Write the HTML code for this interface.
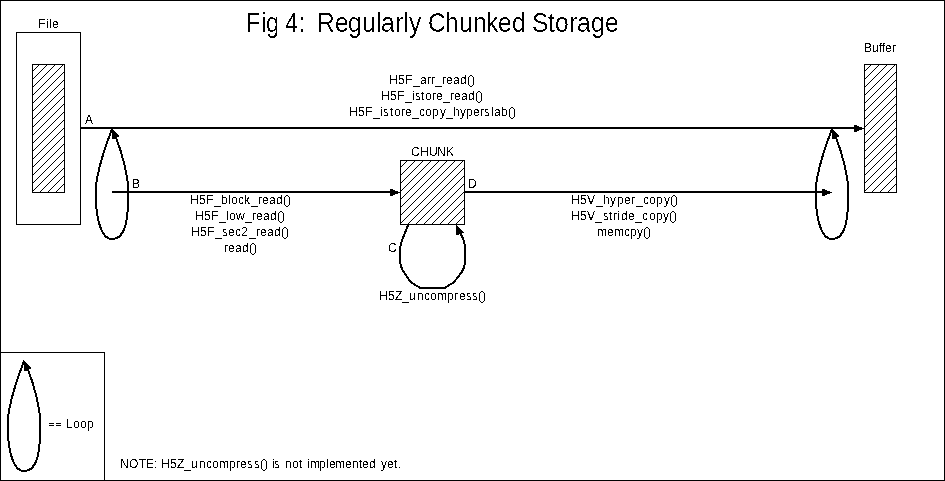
<!DOCTYPE html>
<html>
<head>
<meta charset="utf-8">
<title>Fig 4: Regularly Chunked Storage</title>
<style>
html,body{margin:0;padding:0;background:#fff;}
body{width:945px;height:481px;overflow:hidden;font-family:"Liberation Sans",sans-serif;}
svg{display:block;filter:grayscale(1);}
text{font-family:"Liberation Sans",sans-serif;font-size:12px;fill:#000;white-space:pre;}
</style>
</head>
<body>
<svg width="945" height="481" viewBox="0 0 945 481">
<defs>
<pattern id="h" patternUnits="userSpaceOnUse" x="0" y="0" width="8" height="8">
<g fill="#000" shape-rendering="crispEdges"><rect x="0" y="7" width="1" height="1"/><rect x="1" y="6" width="1" height="1"/><rect x="2" y="5" width="1" height="1"/><rect x="3" y="4" width="1" height="1"/><rect x="4" y="3" width="1" height="1"/><rect x="5" y="2" width="1" height="1"/><rect x="6" y="1" width="1" height="1"/><rect x="7" y="0" width="1" height="1"/></g>
</pattern>
<filter id="bw" x="0" y="0" width="945" height="481" filterUnits="userSpaceOnUse" color-interpolation-filters="sRGB"><feComponentTransfer><feFuncA type="discrete" tableValues="0 1"/></feComponentTransfer></filter>
<filter id="bw2" x="0" y="0" width="945" height="60" filterUnits="userSpaceOnUse" color-interpolation-filters="sRGB"><feComponentTransfer><feFuncA type="discrete" tableValues="0 0 0 1 1"/></feComponentTransfer></filter>
<path id="loop" shape-rendering="crispEdges" d="M0,0 C-4,11 -16.3,41 -16.3,64 C-16.3,84 -12.5,110 0,110 C13,110 16.3,93 16.3,63 C16.3,47.04 9.74,22.61 3.49,7.5" fill="none" stroke="#000" stroke-width="2"/>
<path id="la" shape-rendering="crispEdges" fill="#000" d="M0,0h1v1h1v1h1v1h1v1h1v1h1v1h1v2h-2v1h-2v1h-3z"/>
<path id="ah" shape-rendering="crispEdges" fill="#000" d="M-10,-3h3v1h2v1h3v1h2v1h-2v1h-3v1h-2v1h-3z"/>
</defs>
<rect x="0" y="0" width="945" height="481" fill="#fff"/>
<!-- outer frame and legend box -->
<g fill="none" stroke="#000" stroke-width="1" shape-rendering="crispEdges">
<rect x="0.5" y="0.5" width="944" height="480"/>
<rect x="0.5" y="352.5" width="104" height="128"/>
<!-- File -->
<rect x="16.5" y="32.5" width="64" height="192"/>
<rect x="32.5" y="64.5" width="32" height="128" fill="url(#h)"/>
<!-- Buffer -->
<rect x="864.5" y="64.5" width="32" height="128" fill="url(#h)"/>
<!-- CHUNK -->
<rect x="400.5" y="160.5" width="64" height="64" fill="url(#h)"/>
</g>
<!-- arrows -->
<g stroke="#000" stroke-width="2" shape-rendering="crispEdges">
<line x1="81" y1="128" x2="856" y2="128"/>
<line x1="112" y1="192" x2="392" y2="192"/>
<line x1="465" y1="192" x2="824" y2="192"/>
</g>
<use href="#ah" x="864" y="128"/>
<use href="#ah" x="400" y="192"/>
<use href="#ah" x="832" y="192"/>
<!-- loops -->
<use href="#loop" x="112" y="129"/><use href="#la" x="112" y="129"/>
<use href="#loop" x="832" y="129"/><use href="#la" x="832" y="129"/>
<use href="#loop" x="24" y="361"/>
<path shape-rendering="crispEdges" fill="#000" d="M23,360h1v1h1v1h1v1h1v1h1v1h1v1h1v1h1v2h-2v1h-2v1h-3v-6h-1z"/>
<!-- chunk loop -->
<g shape-rendering="crispEdges"><path d="M408.50,224.00 C407.92,225.50 406.17,230.00 405.00,233.00 C403.83,236.00 402.33,239.17 401.50,242.00 C400.67,244.83 400.25,246.67 400.00,250.00 C399.75,253.33 399.58,258.67 400.00,262.00 C400.42,265.33 401.67,268.08 402.50,270.00 C403.33,271.92 403.75,271.67 405.00,273.50 C406.25,275.33 408.33,279.12 410.00,281.00 C411.67,282.88 413.25,283.63 415.00,284.80 C416.75,285.97 419.58,287.47 420.50,288.00 L444.50,288.00 C444.92,287.73 445.52,287.33 447.00,286.40 C448.48,285.47 451.62,283.90 453.40,282.40 C455.18,280.90 456.35,279.07 457.70,277.40 C459.05,275.73 460.45,274.07 461.50,272.40 C462.55,270.73 463.42,269.13 464.00,267.40 C464.58,265.67 464.83,263.90 465.00,262.00 C465.17,260.10 465.00,258.33 465.00,256.00 C465.00,253.67 465.17,250.47 465.00,248.00 C464.83,245.53 464.45,243.03 464.00,241.20 C463.55,239.37 462.80,238.12 462.30,237.00 C461.80,235.88 461.33,235.25 461.00,234.50 C460.67,233.75 460.42,232.83 460.30,232.50" fill="none" stroke="#000" stroke-width="2"/>
<path d="M456,225h1v1h1v1h1v1h1v1h1v1h1v1h1v1h1v1h-2v1h-3v1h-3z" fill="#000"/></g>
<!-- "==" of legend -->
<g fill="#000" shape-rendering="crispEdges"><rect x="49" y="423" width="5" height="1"/><rect x="49" y="425" width="5" height="1"/><rect x="56" y="423" width="5" height="1"/><rect x="56" y="425" width="5" height="1"/></g>
<!-- text -->
<g filter="url(#bw2)">
<text transform="translate(0,32) scale(0.9835,1.1176)" x="250.11 265.37 270.45 283.67 289.77 304.00" y="0" style="font-size:24px">Fig 4:</text>
<text transform="translate(0,32) scale(1.0253,1.1176)" x="309.17 326.72 339.40 353.06 366.71 371.59 385.24 393.04 398.90" y="0" style="font-size:24px">Regularly</text>
<text transform="translate(0,32) scale(1.0189,1.1176)" x="420.07 436.76 450.50 464.24 477.00 488.77 502.51" y="0" style="font-size:24px">Chunked</text>
<text transform="translate(0,32) scale(1.0301,1.1176)" x="516.48 532.01 538.80 552.40 560.16 573.75 587.35" y="0" style="font-size:24px">Storage</text>
</g>
<g filter="url(#bw)">
<text x="38 46 49 52" y="28">File</text>
<text x="864 872 879 882 885 892" y="52">Buffer</text>
<text x="411 420 429 437 446" y="156">CHUNK</text>
<text x="85" y="124">A</text>
<text x="132" y="188">B</text>
<text x="388" y="252">C</text>
<text x="468" y="188">D</text>
<text x="389 398 405 413 420 427 431 435 442 446 453 460 467 471" y="84">H5F_arr_read()</text>
<text x="381 390 397 405 412 415 421 425 432 436 443 450 454 461 468 475 479" y="100">H5F_istore_read()</text>
<text x="349 358 365 373 380 383 390 394 401 405 412 419 425 432 440 446 453 460 466 473 480 484 491 494 501 508 512" y="116">H5F_istore_copy_hyperslab()</text>
<text x="190 199 206 214 221 228 231 238 244 251 258 262 269 276 283 287" y="204">H5F_block_read()</text>
<text x="195 204 211 219 226 229 236 245 252 256 263 270 277 281" y="220">H5F_low_read()</text>
<text x="191 200 207 215 222 228 235 241 249 256 260 267 274 281 285" y="236">H5F_sec2_read()</text>
<text x="224 228 235 242 249 253" y="252">read()</text>
<text x="571 580 587 596 603 610 617 624 631 636 643 649 656 664 670 674" y="204">H5V_hyper_copy()</text>
<text x="571 580 587 595 603 609 613 617 621 628 635 642 649 656 663 669 673" y="220">H5V_stride_copy()</text>
<text x="597 607 614 624 630 637 643 647" y="236">memcpy()</text>
<text x="379 388 395 402 409 417 424 430 437 447 454 459 466 472 478 482" y="300">H5Z_uncompress()</text>
<text x="66 73 80 87" y="428">Loop</text>
<text x="120 129 139 146 154" y="468">NOTE:</text>
<text x="161 170 177 184 191 199 206 212 219 229 236 240 247 254 260 264" y="468">H5Z_uncompress()</text>
<text x="272 274" y="468">is</text>
<text x="285 292 299" y="468">not</text>
<text x="307 310 319 326 329 335 345 352 359 362 369" y="468">implemented</text>
<text x="381 387 394 398" y="468">yet.</text>
</g>
</svg>
</body>
</html>
